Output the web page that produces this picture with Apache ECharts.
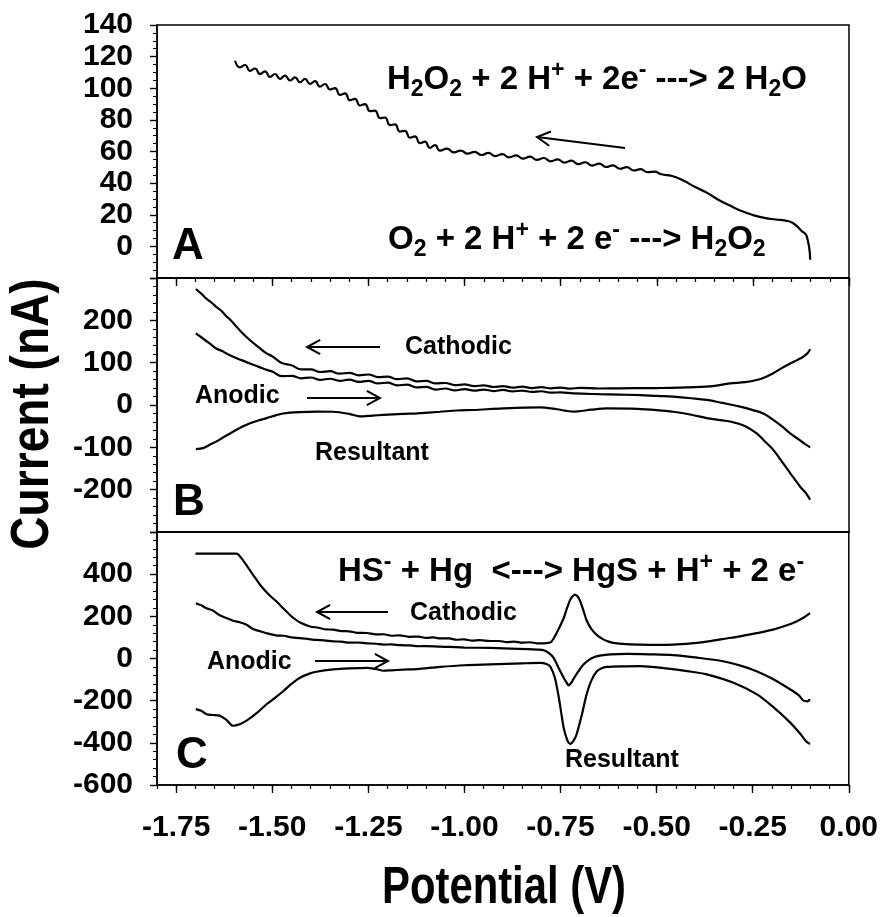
<!DOCTYPE html>
<html>
<head>
<meta charset="utf-8">
<script src="https://cdn.jsdelivr.net/npm/echarts@6/dist/echarts.min.js"></script>
<style>html,body{margin:0;padding:0;background:#fff}#c{width:881px;height:917px}</style>
</head>
<body>
<div id="c"></div>
<script>
// ---------- data ----------
const xMajorTicks = [-1.75, -1.5, -1.25, -1.0, -0.75, -0.5, -0.25, 0];

// Panel A: O2 reduction sweep
const aX = [-1.597,-1.584,-1.571,-1.558,-1.545,-1.532,-1.519,-1.506,-1.493,-1.480,-1.467,-1.454,-1.441,-1.428,-1.415,-1.402,-1.389,-1.376,-1.363,-1.350,-1.337,-1.324,-1.311,-1.298,-1.285,-1.272,-1.259,-1.246,-1.233,-1.220,-1.207,-1.194,-1.181,-1.168,-1.155,-1.142,-1.129,-1.116,-1.103,-1.090,-1.077,-1.064,-1.046,-1.028,-1.010,-0.992,-0.974,-0.956,-0.938,-0.920,-0.902,-0.884,-0.866,-0.848,-0.830,-0.812,-0.794,-0.776,-0.758,-0.740,-0.722,-0.704,-0.686,-0.668,-0.650,-0.632,-0.614,-0.596,-0.578,-0.560,-0.542,-0.524,-0.506,-0.488,-0.46,-0.43,-0.40,-0.37,-0.34,-0.31,-0.28,-0.25,-0.22,-0.19,-0.165,-0.145,-0.123,-0.110,-0.101];
const aY = [117.4,113.2,114.7,111.0,112.5,109.0,110.7,107.1,109.0,105.9,108.0,104.9,106.9,103.8,105.9,102.8,104.5,101.0,102.7,99.2,100.1,95.8,96.7,92.4,93.3,89.1,90.0,85.5,85.9,81.1,81.5,76.7,77.2,72.6,73.1,68.7,69.6,65.3,66.2,62.3,64.0,60.6,61.8,59.5,60.6,58.6,59.8,57.8,59.1,57.1,58.3,56.3,57.5,55.5,56.7,54.7,55.9,53.8,55.0,53.0,54.2,52.0,53.2,51.1,52.3,50.2,51.2,49.1,50.1,48.0,48.8,46.9,47.3,45.6,44.5,41.5,37.5,34,29.5,25.8,22.4,19.8,18,17,16.3,14.6,9.7,6.5,-8.5];

// Panel B
const bCathodic = [[-1.699,274],[-1.685,263],[-1.67,250],[-1.657,241],[-1.645,231],[-1.632,222],[-1.62,210],[-1.61,202],[-1.60,192],[-1.58,172],[-1.558,153],[-1.535,136],[-1.515,122],[-1.500,115],[-1.475,99],[-1.450,94],[-1.425,84],[-1.400,84],[-1.375,78],[-1.350,80],[-1.325,74],[-1.300,76],[-1.275,70],[-1.250,72],[-1.225,66],[-1.200,67],[-1.175,61],[-1.150,63],[-1.125,56],[-1.100,57],[-1.075,51],[-1.050,52],[-1.025,47],[-1.000,48.5],[-0.975,44.5],[-0.950,46.5],[-0.925,42.5],[-0.900,44.5],[-0.875,41],[-0.850,43.5],[-0.825,40],[-0.800,42],[-0.775,39.5],[-0.750,41],[-0.725,38.5],[-0.700,40.5],[-0.65,39],[-0.60,39.5],[-0.50,40],[-0.40,42],[-0.35,45],[-0.31,51],[-0.27,54],[-0.24,59],[-0.22,65],[-0.197,75],[-0.175,87],[-0.153,98],[-0.135,106],[-0.119,114],[-0.108,122],[-0.101,132]];
const bAnodic = [[-1.699,169],[-1.685,160],[-1.67,150],[-1.657,141],[-1.645,133],[-1.632,128],[-1.62,122],[-1.602,114],[-1.58,106],[-1.558,98],[-1.535,90],[-1.515,83],[-1.500,79],[-1.475,68],[-1.450,69],[-1.425,63],[-1.400,65],[-1.375,59.5],[-1.350,62],[-1.325,57],[-1.300,60],[-1.275,54.5],[-1.250,57],[-1.225,51],[-1.200,53],[-1.175,46.5],[-1.150,48],[-1.125,41.5],[-1.100,43],[-1.075,36.5],[-1.050,39],[-1.025,34.5],[-1.000,37.5],[-0.975,34],[-0.950,36.5],[-0.925,33],[-0.900,35.5],[-0.875,32],[-0.850,34],[-0.825,31],[-0.800,32.5],[-0.775,29],[-0.750,30],[-0.717,27.5],[-0.65,25.5],[-0.60,24.5],[-0.543,23.5],[-0.50,21.5],[-0.457,19.6],[-0.41,16],[-0.37,12],[-0.33,5],[-0.283,-4],[-0.25,-12],[-0.223,-20],[-0.197,-35],[-0.175,-50],[-0.153,-67],[-0.13,-82],[-0.115,-92],[-0.101,-100]];
const bResultant = [[-1.699,-104],[-1.68,-102],[-1.665,-95],[-1.645,-86],[-1.625,-75],[-1.602,-63],[-1.58,-52],[-1.558,-43],[-1.535,-36],[-1.515,-31],[-1.49,-24],[-1.472,-20],[-1.43,-17],[-1.385,-15.7],[-1.342,-16],[-1.30,-21],[-1.272,-27],[-1.24,-25],[-1.211,-23.5],[-1.16,-21],[-1.124,-19.6],[-1.064,-16],[-1.02,-13],[-0.977,-11.8],[-0.9,-8],[-0.804,-5.5],[-0.76,-10],[-0.717,-15.7],[-0.67,-11],[-0.63,-8],[-0.55,-9],[-0.50,-12],[-0.457,-16],[-0.41,-23],[-0.37,-31],[-0.34,-35],[-0.309,-39],[-0.27,-50],[-0.24,-67],[-0.22,-85],[-0.197,-106],[-0.175,-133],[-0.153,-161],[-0.127,-193],[-0.112,-208],[-0.101,-224]];

// Panel C
const cCathodic = [[-1.70,497],[-1.593,497],[-1.58,475],[-1.567,442],[-1.55,397],[-1.532,350],[-1.51,305],[-1.489,270],[-1.467,230],[-1.445,192],[-1.425,168],[-1.402,152],[-1.38,146],[-1.36,138],[-1.342,137],[-1.32,130],[-1.30,129],[-1.28,122],[-1.254,121],[-1.23,114],[-1.21,115],[-1.19,108],[-1.168,110],[-1.145,103],[-1.12,104],[-1.10,98],[-1.08,100],[-1.064,95],[-1.04,95],[-1.02,89],[-1.00,91],[-0.98,85],[-0.96,87],[-0.934,83],[-0.91,83],[-0.89,78],[-0.87,80],[-0.85,75],[-0.83,77],[-0.81,72],[-0.786,73],[-0.775,78],[-0.768,95],[-0.755,140],[-0.742,191],[-0.733,240],[-0.725,278],[-0.718,296],[-0.712,303],[-0.705,293],[-0.699,272],[-0.69,225],[-0.682,180],[-0.67,140],[-0.656,112],[-0.64,92],[-0.625,80],[-0.613,74],[-0.58,68],[-0.543,66],[-0.50,65],[-0.457,66],[-0.41,72],[-0.37,80],[-0.33,92],[-0.283,105],[-0.24,120],[-0.197,137],[-0.165,155],[-0.136,176],[-0.118,193],[-0.101,215]];
const cAnodic = [[-1.699,262],[-1.685,252],[-1.671,238],[-1.655,228],[-1.637,205],[-1.619,192],[-1.6,178],[-1.585,172],[-1.567,160],[-1.55,140],[-1.53,128],[-1.515,120],[-1.49,110],[-1.47,108],[-1.45,100],[-1.428,97],[-1.405,92],[-1.385,88],[-1.365,86],[-1.342,81],[-1.32,80],[-1.30,75],[-1.28,76],[-1.254,72],[-1.23,70],[-1.21,66],[-1.19,67],[-1.168,63],[-1.14,62],[-1.12,58],[-1.10,59],[-1.064,56],[-1.04,55],[-1.00,52],[-0.934,50],[-0.86,46],[-0.81,42],[-0.795,40],[-0.78,26],[-0.768,3],[-0.755,-45],[-0.742,-91],[-0.735,-112],[-0.729,-127],[-0.722,-115],[-0.717,-99],[-0.705,-65],[-0.691,-30],[-0.675,-5],[-0.66,8],[-0.648,14],[-0.62,20],[-0.578,22],[-0.52,20],[-0.457,16],[-0.40,5],[-0.327,-13],[-0.28,-35],[-0.24,-60],[-0.2,-95],[-0.153,-146],[-0.13,-175],[-0.118,-200],[-0.108,-203],[-0.101,-193]];
const cResultant = [[-1.699,-240],[-1.685,-248],[-1.671,-264],[-1.655,-268],[-1.636,-272],[-1.62,-290],[-1.602,-319],[-1.585,-312],[-1.567,-295],[-1.54,-258],[-1.515,-217],[-1.49,-182],[-1.471,-154],[-1.45,-120],[-1.428,-91],[-1.405,-73],[-1.385,-63],[-1.341,-52],[-1.30,-47],[-1.254,-44],[-1.23,-50],[-1.211,-58],[-1.19,-56],[-1.16,-53],[-1.124,-50],[-1.064,-40],[-1.00,-32],[-0.934,-28],[-0.85,-23],[-0.804,-21],[-0.785,-27],[-0.776,-40],[-0.765,-90],[-0.755,-180],[-0.748,-260],[-0.742,-327],[-0.733,-385],[-0.725,-405],[-0.716,-390],[-0.708,-358],[-0.695,-270],[-0.682,-169],[-0.67,-105],[-0.656,-62],[-0.643,-46],[-0.63,-40],[-0.58,-37],[-0.543,-36],[-0.47,-48],[-0.42,-60],[-0.37,-75],[-0.30,-115],[-0.24,-169],[-0.2,-225],[-0.153,-303],[-0.125,-360],[-0.11,-395],[-0.101,-405]];

// ---------- chart ----------
const FONT = '"Liberation Sans", Arial, Helvetica, sans-serif';
const BLACK = '#000';
const chart = echarts.init(document.getElementById('c'), null, {renderer: 'canvas'});

const gridBase = {left: 157, right: 32, show: true, borderColor: BLACK, borderWidth: 1.5, backgroundColor: 'transparent'};
const grids = [
  Object.assign({top: 25, height: 253}, gridBase),
  Object.assign({top: 278, height: 254}, gridBase),
  Object.assign({top: 532, height: 253}, gridBase)
];

function xLabelFmt(v) {
  const k = Math.round(v * 100);
  if (k % 25 !== 0) return '';
  return (k / 100).toFixed(2);
}
function mainX(gi, ticks, labels) {
  return {
    type: 'value', gridIndex: gi, min: -1.8, max: 0, interval: 0.05, position: 'bottom',
    axisLine: {show: true, onZero: false, lineStyle: {color: BLACK, width: 1.5}},
    axisTick: {show: ticks, inside: false, length: 4, lineStyle: {color: BLACK, width: 1.2}},
    axisLabel: {show: labels, interval: 0, formatter: xLabelFmt, fontSize: 30, fontWeight: 'bold',
      fontFamily: FONT, color: BLACK, margin: 28},
    splitLine: {show: false}
  };
}
function majorX(gi) {
  return {
    type: 'value', gridIndex: gi, min: -1.8, max: 0, position: 'bottom',
    axisLine: {show: false, onZero: false},
    axisTick: {show: true, inside: false, length: 8, customValues: xMajorTicks, lineStyle: {color: BLACK, width: 1.4}},
    axisLabel: {show: false},
    splitLine: {show: false}
  };
}
function yAx(gi, min, max, interval, split, showMin, showMax) {
  return {
    type: 'value', gridIndex: gi, min: min, max: max, interval: interval, position: 'left',
    axisLine: {show: true, onZero: false, lineStyle: {color: BLACK, width: 1.5}},
    axisTick: {show: true, inside: false, length: 7, lineStyle: {color: BLACK, width: 1.4}},
    minorTick: {show: true, splitNumber: split, length: 4, lineStyle: {color: BLACK, width: 1}},
    axisLabel: {fontSize: 30, fontWeight: 'bold', fontFamily: FONT, color: BLACK, margin: 24,
      showMinLabel: showMin, showMaxLabel: showMax},
    splitLine: {show: false}, minorSplitLine: {show: false}
  };
}
function lineSeries(xi, yi, data, smooth) {
  return {type: 'line', xAxisIndex: xi, yAxisIndex: yi, data: data, showSymbol: false, symbol: 'none',
    smooth: smooth, silent: true, clip: false, lineStyle: {color: BLACK, width: 2.2}};
}

const RICH = {
  n: {fontSize: 33, fontWeight: 'bold', fontFamily: FONT, lineHeight: 42},
  sb: {fontSize: 23, fontWeight: 'bold', fontFamily: FONT, lineHeight: 26, verticalAlign: 'bottom'},
  sp: {fontSize: 23, fontWeight: 'bold', fontFamily: FONT, lineHeight: 26, verticalAlign: 'top'}
};
function richText(text, x, y) {
  return {type: 'text', x: x, y: y, silent: true,
    style: {text: text, rich: RICH, fill: BLACK, align: 'left', verticalAlign: 'middle'}};
}
function plainText(text, x, y, size, align) {
  return {type: 'text', x: x, y: y, silent: true,
    style: {text: text, fill: BLACK, font: 'bold ' + size + 'px ' + FONT, align: align || 'left', verticalAlign: 'middle'}};
}
function arrow(tx, ty, hx, hy) {
  const dx = tx - hx, dy = ty - hy, L = Math.sqrt(dx * dx + dy * dy);
  const ux = dx / L, uy = dy / L, a = 0.5, len = 15;
  const p1 = [hx + len * (ux * Math.cos(a) - uy * Math.sin(a)), hy + len * (ux * Math.sin(a) + uy * Math.cos(a))];
  const p2 = [hx + len * (ux * Math.cos(-a) - uy * Math.sin(-a)), hy + len * (ux * Math.sin(-a) + uy * Math.cos(-a))];
  return {type: 'group', silent: true, children: [
    {type: 'line', shape: {x1: tx, y1: ty, x2: hx, y2: hy}, style: {stroke: BLACK, lineWidth: 2}},
    {type: 'polyline', shape: {points: [p1, [hx, hy], p2]}, style: {stroke: BLACK, lineWidth: 2, fill: null}}
  ]};
}

const option = {
  animation: false,
  backgroundColor: '#fff',
  grid: grids,
  xAxis: [mainX(0, true, false), mainX(1, false, false), mainX(2, true, true), majorX(0), majorX(2)],
  yAxis: [
    yAx(0, -20, 140, 20, 4, false, true),
    yAx(1, -300, 300, 100, 5, false, false),
    yAx(2, -600, 600, 200, 5, true, false)
  ],
  series: [
    lineSeries(0, 0, aX.map((x, i) => [x, aY[i]]), 0.5),
    lineSeries(1, 1, bCathodic, 0.4),
    lineSeries(1, 1, bAnodic, 0.4),
    lineSeries(1, 1, bResultant, 0.3),
    lineSeries(2, 2, cCathodic, 0.3),
    lineSeries(2, 2, cAnodic, 0.3),
    lineSeries(2, 2, cResultant, 0.3)
  ],
  graphic: [
    // axis titles
    {type: 'text', x: 33, y: 414, rotation: Math.PI / 2, scaleX: 0.96, scaleY: 1.1, silent: true,
      style: {text: 'Current (nA)', fill: BLACK, font: 'bold 48px ' + FONT, align: 'center', verticalAlign: 'middle'}},
    {type: 'text', x: 504, y: 889, scaleX: 0.82, silent: true,
      style: {text: 'Potential (V)', fill: BLACK, font: 'bold 51px ' + FONT, align: 'center', verticalAlign: 'middle'}},
    // panel letters
    plainText('A', 188, 247, 44, 'center'),
    plainText('B', 189, 503, 44, 'center'),
    plainText('C', 192, 756, 44, 'center'),
    // panel A
    richText('{n|H}{sb|2}{n|O}{sb|2}{n| + 2 H}{sp|+}{n| + 2e}{sp|-}{n| ---> 2 H}{sb|2}{n|O}', 387, 80),
    richText('{n|O}{sb|2}{n| + 2 H}{sp|+}{n| + 2 e}{sp|-}{n| ---> H}{sb|2}{n|O}{sb|2}', 388, 240),
    arrow(625, 148, 537, 137),
    // panel B
    plainText('Cathodic', 405, 347, 25),
    plainText('Anodic', 195, 396, 25),
    plainText('Resultant', 315, 453, 25),
    arrow(380, 347, 307, 347),
    arrow(307, 398, 380, 398),
    // panel C
    richText('{n|HS}{sp|-}{n| + Hg  <---> HgS + H}{sp|+}{n| + 2 e}{sp|-}', 338, 572),
    plainText('Cathodic', 410, 613, 25),
    plainText('Anodic', 207, 662, 25),
    plainText('Resultant', 565, 760, 25),
    arrow(388, 612, 317, 612),
    arrow(315, 661, 388, 661)
  ]
};
chart.setOption(option);
</script>
</body>
</html>
